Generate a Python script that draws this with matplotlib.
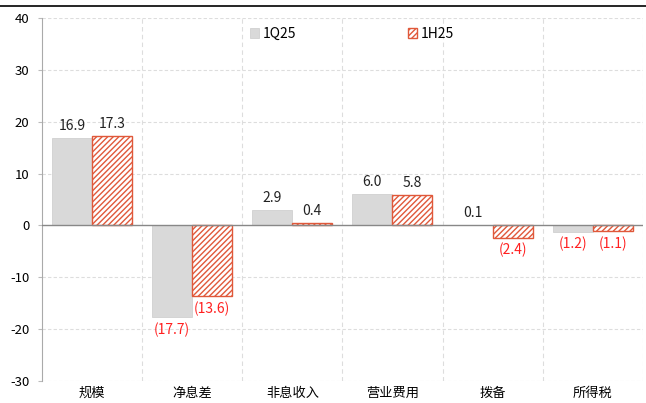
import matplotlib
matplotlib.use("Agg")
import matplotlib.pyplot as plt
from matplotlib.lines import Line2D
import numpy as np

plt.rcParams['font.family'] = ['Noto Sans CJK SC', 'DejaVu Sans']
plt.rcParams['hatch.linewidth'] = 1.0

categories = ["规模", "净息差", "非息收入", "营业费用", "拨备", "所得税"]
q1 = [16.9, -17.7, 2.9, 6.0, 0.1, -1.2]
h1 = [17.3, -13.6, 0.4, 5.8, -2.4, -1.1]
series_names = ["1Q25", "1H25"]
yticks = [-30, -20, -10, 0, 10, 20, 30, 40]

red = "#e0583a"
fig = plt.figure(figsize=(6.46, 4.03), dpi=100)
ax = fig.add_axes([0.065, 0.0546, 0.930, 0.9007])

x = np.arange(len(categories))
w = 0.4
b1 = ax.bar(x - w/2, q1, w, color="#d9d9d9", edgecolor="#d0d0d0", linewidth=0.6,
            label=series_names[0], zorder=3)
b2 = ax.bar(x + w/2, h1, w, color="white", edgecolor=red, hatch="//////", linewidth=1.0,
            label=series_names[1], zorder=3)

def fmt(v):
    return f"{v:.1f}" if v >= 0 else f"({abs(v):.1f})"

for bars, vals in ((b1, q1), (b2, h1)):
    for r, v in zip(bars, vals):
        cx = r.get_x() + r.get_width()/2
        if v >= 0:
            ax.text(cx, v + 1.0, fmt(v), ha="center", va="bottom", fontsize=10, color="#222222")
        else:
            ax.text(cx, v - 1.0, fmt(v), ha="center", va="top", fontsize=10, color="#ff2020")

ax.set_xlim(-0.5, len(categories) - 0.5)
ax.set_ylim(-30, 40)
ax.set_yticks(yticks)
ax.set_yticklabels([str(t) for t in yticks], fontsize=9.5)
ax.set_xticks(x)
ax.set_xticklabels(categories, fontsize=9.5)
ax.tick_params(axis="x", length=0, pad=4)
ax.tick_params(axis="y", length=3, color="#bbbbbb", pad=6)

for yv in yticks:
    if yv != 0:
        ax.axhline(yv, color="#dddddd", linestyle=(0, (3, 2)), linewidth=0.8, zorder=0)
for xv in np.arange(0.5, len(categories) - 0.5, 1):
    ax.axvline(xv, color="#dddddd", linestyle=(0, (4, 3)), linewidth=0.8, zorder=0)
ax.axhline(0, color="#888888", linewidth=1.0, zorder=4)

for s in ("top", "right", "bottom"):
    ax.spines[s].set_visible(False)
ax.axvline(len(categories) - 0.5, color="#dddddd", linestyle=(0, (4, 3)), linewidth=0.8, zorder=0)
ax.spines["left"].set_color("#aaaaaa")

leg = ax.legend(loc="upper left", bbox_to_anchor=(0.325, 1.01), ncol=2, frameon=False,
                fontsize=10, handlelength=0.7, handleheight=0.7, handletextpad=0.25,
                columnspacing=8.0)

fig.add_artist(Line2D([0.0, 1.0], [0.985, 0.985], transform=fig.transFigure,
                      color="black", linewidth=1.2))

fig.savefig("out.png", dpi=100)
